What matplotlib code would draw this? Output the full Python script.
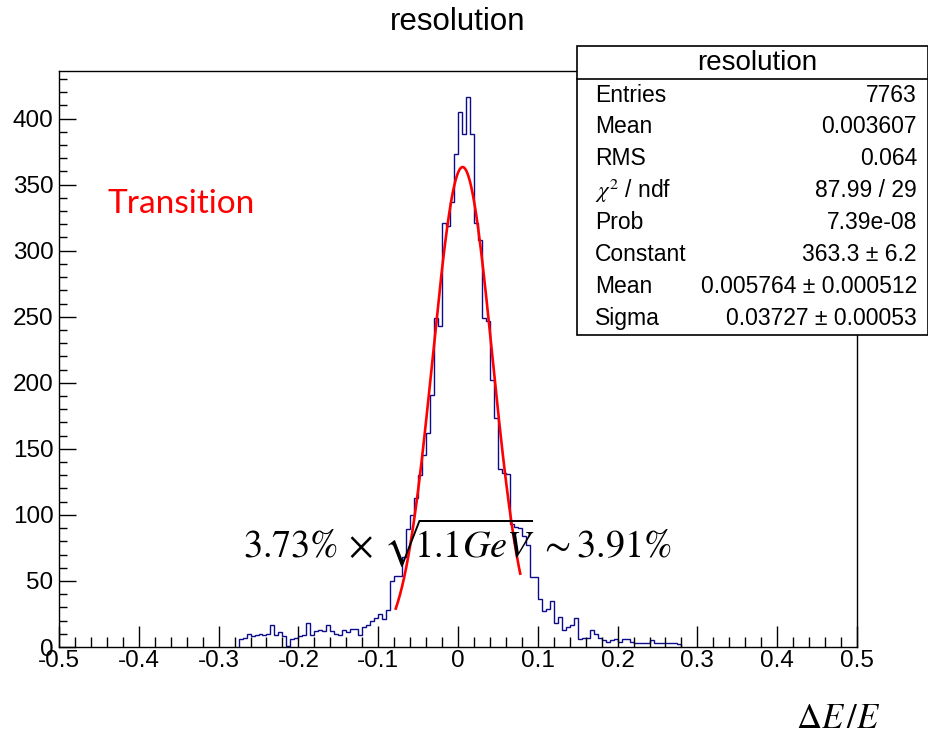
import numpy as np
import matplotlib
matplotlib.use("Agg")
import matplotlib.pyplot as plt
from matplotlib.patches import Rectangle
from matplotlib.lines import Line2D
from matplotlib.ticker import MultipleLocator

# ── DATA ─────────────────────────────────────────────────────────────
bin_width = 0.005
first_edge = -0.275
counts = [
    6, 7, 10, 8, 9, 10, 9, 10, 17, 9,          # -0.275 .. -0.230
    11, 8, 1, 6, 7, 8, 9, 18, 9, 12,           # -0.225 .. -0.180
    13, 12, 17, 12, 10, 9, 13, 11, 14, 14,     # -0.175 .. -0.130
    9, 15, 17, 20, 22, 25, 21, 28, 50, 54,     # -0.125 .. -0.080
    54, 68, 89, 100, 113, 130, 145, 162, 191, 249,   # -0.075 .. -0.030
    243, 321, 319, 337, 373, 405, 388, 416, 388, 321, # -0.025 .. 0.020
    308, 249, 247, 202, 173, 135, 132, 131, 93, 91,   # 0.025 .. 0.070
    90, 84, 77, 53, 53, 36, 27, 29, 35, 18,    # 0.075 .. 0.120
    23, 13, 15, 17, 22, 6, 7, 7, 13, 10,       # 0.125 .. 0.170
    7, 5, 4, 5, 6, 4, 6, 6, 4, 3,              # 0.175 .. 0.220
    3, 3, 3, 5, 3, 3, 3, 3, 3, 3, 2,           # 0.225 .. 0.275
]

# gaussian fit result (from stats box)
fit_const = 363.3
fit_mean = 0.005764
fit_sigma = 0.03727
fit_range = (-0.078, 0.078)

stats_title = "resolution"
stats_names = ["Entries", "Mean", "RMS", r"$\chi^{2}$ / ndf", "Prob",
               "Constant", "Mean", "Sigma"]
stats_values = ["7763", "0.003607", "0.064", "87.99 / 29", "7.39e-08",
                "363.3 \u00b1 6.2", "0.005764 \u00b1 0.000512",
                "0.03727 \u00b1 0.00053"]

x_ticks = [-0.5, -0.4, -0.3, -0.2, -0.1, 0, 0.1, 0.2, 0.3, 0.4, 0.5]
x_tick_labels = ["-0.5", "-0.4", "-0.3", "-0.2", "-0.1", "0",
                 "0.1", "0.2", "0.3", "0.4", "0.5"]
y_ticks = [0, 50, 100, 150, 200, 250, 300, 350, 400]

# ── PLOT ─────────────────────────────────────────────────────────────
plt.rcParams["font.family"] = ["Liberation Sans", "DejaVu Sans"]
plt.rcParams["mathtext.fontset"] = "stix"

fig = plt.figure(figsize=(9.29, 7.36), dpi=100)
ax = fig.add_axes([59 / 929, 1 - 647 / 736, (857 - 59) / 929, (647 - 71) / 736])

edges = first_edge + bin_width * np.arange(len(counts) + 1)
ax.stairs(counts, edges, baseline=0, fill=False, color="#0c0c8a", lw=1.0)

xf = np.linspace(fit_range[0], fit_range[1], 300)
yf = fit_const * np.exp(-0.5 * ((xf - fit_mean) / fit_sigma) ** 2)
ax.plot(xf, yf, color="#ff0000", lw=1.9)

ax.set_xlim(-0.5, 0.5)
ax.set_ylim(0, 436)
ax.set_xticks(x_ticks)
ax.set_xticklabels(x_tick_labels)
ax.set_yticks(y_ticks)
ax.xaxis.set_minor_locator(MultipleLocator(0.02))
ax.yaxis.set_minor_locator(MultipleLocator(10))
ax.tick_params(axis="x", which="major", direction="in", length=15, width=1,
               labelsize=17.5, pad=2)
ax.tick_params(axis="x", which="minor", direction="in", length=7.5, width=1)
ax.tick_params(axis="y", which="major", direction="in", length=12, width=1,
               labelsize=17.5, pad=4)
ax.tick_params(axis="y", which="minor", direction="in", length=6, width=1)
for sp in ax.spines.values():
    sp.set_linewidth(1.0)

fig.text(458 / 929, 1 - 22 / 736, "resolution", ha="center", va="center",
         fontsize=22.5)

ax.text(108 / 929, 1 - 204 / 736, "Transition", transform=fig.transFigure,
        color="#ff0000", fontsize=24, family=["Lato", "DejaVu Sans"],
        ha="left", va="center")

fig.text(243 / 929, 1 - 557 / 736,
         r"$3.73\%\,\times\,\sqrt{\!\!1.1GeV\!}\ {\sim}3.91\%$",
         ha="left", va="baseline", fontsize=27.5)

fig.text(880 / 929, 1 - 728 / 736, r"$\Delta E\,/E$", ha="right",
         va="baseline", fontsize=25)

# stats box
bx0, bx1 = 577 / 929, 928 / 929
by0, by1 = 1 - 335 / 736, 1 - 46 / 736
fig.add_artist(Rectangle((bx0, by0), bx1 - bx0, by1 - by0,
                         transform=fig.transFigure, facecolor="white",
                         edgecolor="black", lw=1.2, zorder=5))
sep_y = 1 - 79 / 736
fig.add_artist(Line2D([bx0, bx1], [sep_y, sep_y], transform=fig.transFigure,
                      color="black", lw=1.2, zorder=6))
fig.text(757 / 929, 1 - 63 / 736, stats_title, ha="center", va="center",
         fontsize=20, zorder=7)
for i, (name, val) in enumerate(zip(stats_names, stats_values)):
    yy = 1 - (95 + i * 31.9) / 736
    fig.text(595 / 929, yy, name, ha="left", va="center", fontsize=16.5,
             zorder=7)
    fig.text(917 / 929, yy, val, ha="right", va="center", fontsize=16.5,
             zorder=7)

fig.savefig("out.png", dpi=100)
